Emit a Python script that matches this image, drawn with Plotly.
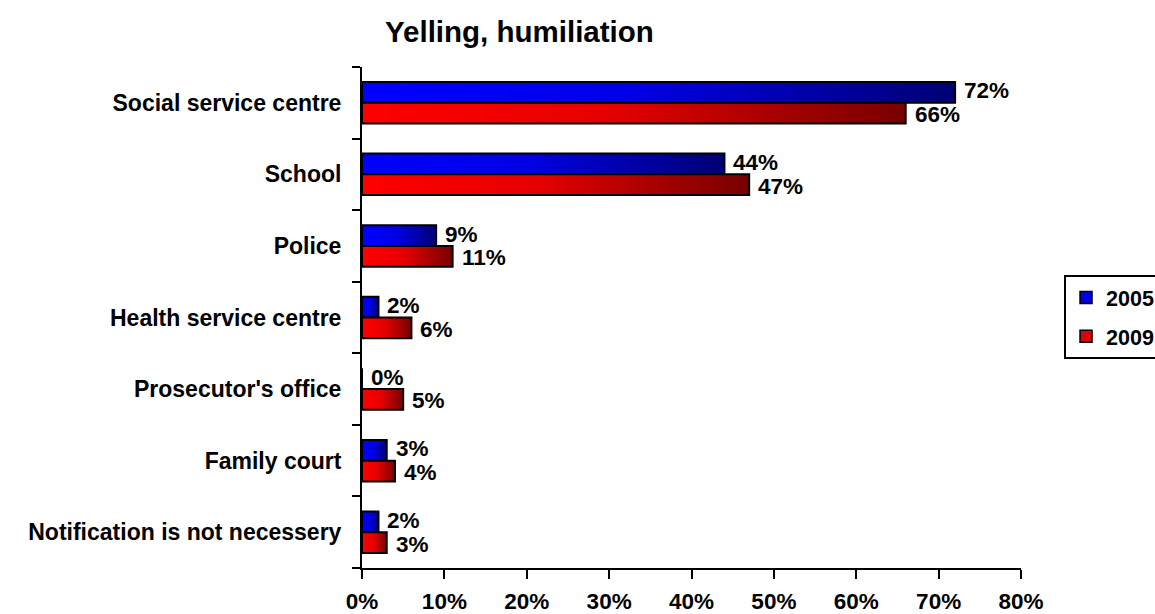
import plotly.graph_objects as go

# Survey data: share of respondents reporting yelling / humiliation, by institution
categories = [
    "Social service centre",
    "School",
    "Police",
    "Health service centre",
    "Prosecutor's office",
    "Family court",
    "Notification is not necessery",
]
values_2005 = [72, 44, 9, 2, 0, 3, 2]
values_2009 = [66, 47, 11, 6, 5, 4, 3]
years = ["2005", "2009"]
x_ticks = [0, 10, 20, 30, 40, 50, 60, 70, 80]
x_tick_labels = [f"{t}%" for t in x_ticks]

FONT = "Liberation Sans, Arial, sans-serif"
BAR_H = 0.29  # bar thickness in category units

series = [
    (years[0], values_2005, [[0, "#0000FF"], [0.45, "#0000E6"], [1, "#000074"]], "#0000E0", 1),
    (years[1], values_2009, [[0, "#FF0000"], [0.45, "#E60000"], [1, "#780000"]], "#E00000", -1),
]

n = len(categories)
centers = [n - i - 0.5 for i in range(n)]

fig = go.Figure()
annotations = []

for name, vals, cscale, solid, side in series:
    for v, c in zip(vals, centers):
        y_a = c
        y_b = c + side * BAR_H
        fig.add_trace(go.Scatter(
            x=[0, v, v, 0, 0],
            y=[y_a, y_a, y_b, y_b, y_a],
            mode="lines",
            fill="toself",
            fillgradient=dict(type="horizontal", colorscale=cscale),
            line=dict(color="black", width=2),
            showlegend=False,
            hoverinfo="skip",
        ))
        # value label just past the end of the bar
        annotations.append(dict(
            x=v,
            y=c + side * BAR_H / 2,
            xref="x",
            yref="y",
            text=f"<b>{v}%</b>",
            showarrow=False,
            xanchor="left",
            yanchor="middle",
            xshift=7,
            yshift=side * 1.5,
            font=dict(family=FONT, size=22.5, color="black"),
        ))
    # legend entry for the year
    fig.add_trace(go.Bar(
        x=[None],
        y=[None],
        orientation="h",
        name=name,
        legendgroup=name,
        marker=dict(color=solid, line=dict(color="black", width=1.5)),
        hoverinfo="skip",
    ))

fig.update_layout(
    width=1155,
    height=614,
    paper_bgcolor="white",
    plot_bgcolor="white",
    margin=dict(l=362, r=134, t=67, b=46, autoexpand=False),
    font=dict(family=FONT, color="black"),
    annotations=annotations,
    title=dict(
        text="<b>Yelling, humiliation</b>",
        font=dict(family=FONT, size=29.5, color="black"),
        x=385 / 1155,
        xanchor="left",
        xref="container",
        y=1 - 32 / 614,
        yanchor="middle",
        yref="container",
    ),
    legend=dict(
        x=1.0653,
        xanchor="left",
        y=0.585,
        yanchor="top",
        bordercolor="black",
        borderwidth=2,
        bgcolor="white",
        itemwidth=30,
        font=dict(family=FONT, size=21.5, color="black", weight="bold"),
        tracegroupgap=8,
    ),
    xaxis=dict(
        range=[0, 80],
        tickmode="array",
        tickvals=x_ticks,
        ticktext=x_tick_labels,
        showline=True,
        linecolor="black",
        linewidth=2,
        ticks="outside",
        ticklen=9,
        tickwidth=2,
        tickcolor="black",
        showgrid=False,
        zeroline=False,
        automargin=False,
        ticklabelstandoff=3,
        tickfont=dict(family=FONT, size=22.5, color="black", weight="bold"),
    ),
    yaxis=dict(
        range=[0, n],
        tickmode="array",
        tickvals=centers,
        ticktext=categories,
        ticks="",
        showline=True,
        linecolor="black",
        linewidth=2,
        showgrid=False,
        zeroline=False,
        automargin=False,
        ticklabelstandoff=14,
        tickfont=dict(family=FONT, size=23, color="black", weight="bold"),
        minor=dict(
            tickmode="linear",
            tick0=0,
            dtick=1,
            ticks="outside",
            ticklen=8,
            tickwidth=2,
            tickcolor="black",
            showgrid=False,
        ),
    ),
)

fig.write_html("out.html")
